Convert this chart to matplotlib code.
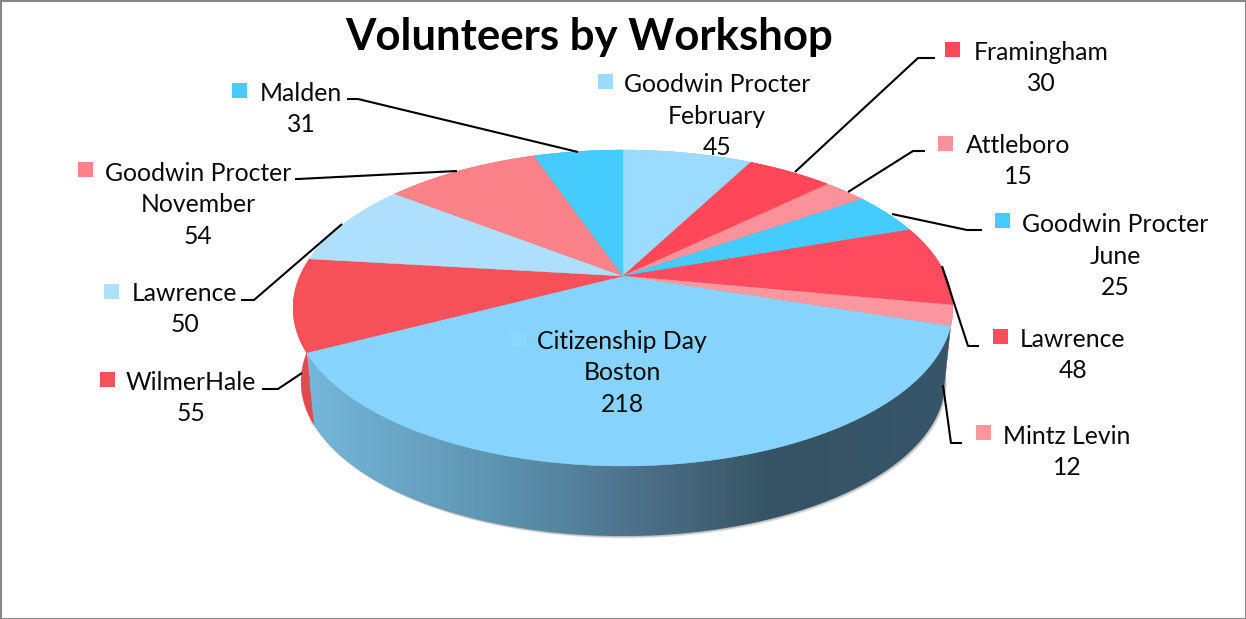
import numpy as np
import matplotlib
matplotlib.use('Agg')
import matplotlib.pyplot as plt
from matplotlib.colors import LinearSegmentedColormap, to_rgb
from matplotlib.patches import Polygon, Rectangle

plt.rcParams['font.family'] = ['Lato', 'DejaVu Sans']

# clockwise from 12 o'clock
workshops = ['Goodwin Procter\nFebruary', 'Framingham', 'Attleboro', 'Goodwin Procter\nJune',
             'Lawrence', 'Mintz Levin', 'Citizenship Day\nBoston', 'WilmerHale', 'Lawrence',
             'Goodwin Procter\nNovember', 'Malden']
volunteers = [45, 30, 15, 25, 48, 12, 218, 55, 50, 54, 31]
colors = ['#9bdbfd', '#ff4757', '#fb9299', '#45ccfe', '#fe4b5d', '#fb979d',
          '#86d3fe', '#f65059', '#aee0fc', '#fb8288', '#45ccfd']

# label centre, legend key corner, leader line (pixels)
label_xy = [(717, 116), (1041, 68), (1018, 161), (1115, 256), (1073, 355), (1067, 452),
            (622, 373), (191, 398), (185, 309), (198, 205), (301, 109)]
key_xy = [(598, 74), (945, 42), (938, 136), (995, 213), (993, 329), (976, 425),
          (511, 332), (100, 372), (104, 284), (78, 162), (232, 83)]
key_colors = colors[:6] + ['#8ad8ff'] + colors[7:]
leaders = [
    None,
    [(795, 172), (918, 58), (935, 58)],
    [(848, 192), (913, 151), (925, 151)],
    [(892, 214), (967, 230), (982, 230)],
    [(942, 266), (968, 346), (979, 346)],
    [(943, 385), (951, 443), (962, 443)],
    None,
    [(302, 373), (278, 389), (262, 389)],
    [(342, 224), (254, 300), (241, 300)],
    [(457, 171), (298, 179), (295, 179)],
    [(347, 99), (358, 99), (578, 152)],
]

CX = 623
TOP_CY, BOTTOM_CY = 276, 350.6
RX, RY, K = 323, 151.5, 0.2026
BOTTOM_SCALE = 0.976


def rim(a, b, cy=TOP_CY, scale=1.0, n=80):
    # perspective view of the pie's circle, angles clockwise from the far side
    t = np.linspace(a, b, n)
    s = scale / (1 + K * np.cos(t))
    return np.column_stack([CX + RX * np.sin(t) * s, cy - RY * np.cos(t) * s])


fig = plt.figure(figsize=(12.46, 6.19), dpi=100)
ax = fig.add_axes([0, 0, 1, 1])
ax.axis('off')

# soft shadow under the front edge
full = rim(0, 2 * np.pi, BOTTOM_CY, BOTTOM_SCALE, 240)
for i in range(5):
    shadow = full + [0.5 * (4 - i), 0.6 * (4 - i)]
    ax.add_patch(Polygon(shadow, fc='#000000', ec='none', alpha=0.08, zorder=1))

edges = np.cumsum([0] + volunteers) / sum(volunteers) * 2 * np.pi
mids = (edges[:-1] + edges[1:]) / 2
big = int(np.argmax(volunteers))

# side wall, far slices first
order = np.argsort(-np.cos(mids))
for z, i in enumerate(order):
    a, b = edges[i], edges[i + 1]
    wall = np.vstack([rim(a, b), rim(b, a, BOTTOM_CY, BOTTOM_SCALE)])
    if i == big:
        cmap = LinearSegmentedColormap.from_list('wall', [
            (0.0, '#74b6da'), (0.2, '#659fbd'), (0.36, '#578aa4'), (0.48, '#507590'),
            (0.61, '#436478'), (0.72, '#355364'), (1.0, '#38566a')])
        grad = np.linspace(0, 1, 640).reshape(1, -1)
        im = ax.imshow(grad, cmap=cmap, extent=[310, 950, 540, 320], aspect='auto', zorder=2 + z)
        clip = Polygon(wall, transform=ax.transData, fc='none', ec='none')
        ax.add_patch(clip)
        im.set_clip_path(clip)
    else:
        c = np.array(to_rgb(colors[i])) * 0.92
        ax.add_patch(Polygon(wall, fc=c, ec=c, lw=0.3, zorder=2 + z))

# top face
for i in range(len(volunteers)):
    top = np.vstack([[CX, TOP_CY], rim(edges[i], edges[i + 1])])
    ax.add_patch(Polygon(top, fc=colors[i], ec=colors[i], lw=0.3, zorder=20))

for i, name in enumerate(workshops):
    ax.text(label_xy[i][0], label_xy[i][1], f'{name}\n{volunteers[i]}', ha='center', va='center',
            fontsize=17.8, linespacing=1.46, color='#0a0a0a', zorder=30)
    ax.add_patch(Rectangle(key_xy[i], 15, 15, fc=key_colors[i], ec='none', zorder=30))
    if leaders[i]:
        xs, ys = zip(*leaders[i])
        ax.plot(xs, ys, color='black', lw=1.5, solid_capstyle='butt', zorder=25)

ax.text(589, 37, 'Volunteers by Workshop', ha='center', va='center', fontsize=31.5,
        fontweight='bold', color='black', zorder=30)

# chart area border
ax.add_patch(Rectangle((0.5, 0.5), 1245, 618, fc='none', ec='#868686', lw=1.5, zorder=40))

ax.set_xlim(0, 1246)
ax.set_ylim(619, 0)
fig.savefig('out.png', dpi=100)
